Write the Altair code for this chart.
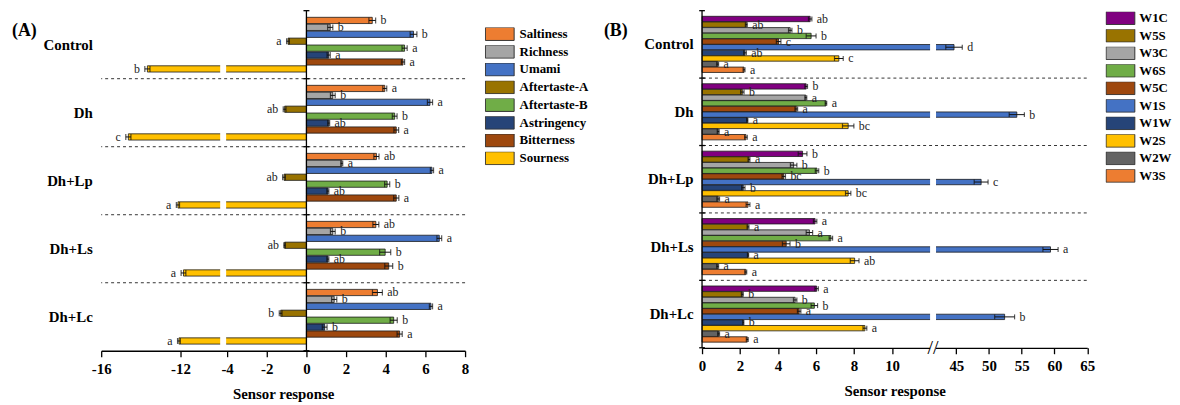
import altair as alt
import pandas as pd

FONT = "Liberation Serif"

groups = ["Control", "Dh", "Dh+Lp", "Dh+Ls", "Dh+Lc"]

# ---------------- Panel A : e-tongue ----------------
taste_attrs = ["Saltiness", "Richness", "Umami", "Aftertaste-A", "Aftertaste-B",
               "Astringency", "Bitterness", "Sourness"]
taste_colors = ["#ED7D31", "#A5A5A5", "#4472C4", "#997300", "#70AD47",
                "#264478", "#9E480E", "#FFC000"]

taste_control = [3.32, 1.20, 5.40, -0.93, 4.95, 1.12, 4.87, -13.67]
taste_dh = [3.95, 1.33, 6.23, -1.10, 4.45, 1.12, 4.53, -14.63]
taste_dhlp = [3.53, 1.78, 6.33, -1.13, 4.07, 1.08, 4.53, -12.13]
taste_dhls = [3.50, 1.33, 6.70, -1.10, 3.97, 1.08, 4.15, -11.85]
taste_dhlc = [3.58, 1.40, 6.28, -1.30, 4.40, 0.92, 4.70, -12.08]

taste_err_control = [0.17, 0.13, 0.17, 0.07, 0.13, 0.08, 0.08, 0.13]
taste_err_dh = [0.10, 0.12, 0.13, 0.07, 0.12, 0.05, 0.12, 0.13]
taste_err_dhlp = [0.13, 0.05, 0.08, 0.07, 0.13, 0.05, 0.13, 0.08]
taste_err_dhls = [0.15, 0.12, 0.12, 0.04, 0.28, 0.05, 0.20, 0.12]
taste_err_dhlc = [0.25, 0.13, 0.08, 0.07, 0.18, 0.12, 0.13, 0.07]

taste_let_control = ["b", "b", "b", "a", "a", "a", "a", "b"]
taste_let_dh = ["a", "b", "a", "ab", "b", "ab", "a", "c"]
taste_let_dhlp = ["ab", "a", "a", "ab", "b", "ab", "a", "a"]
taste_let_dhls = ["ab", "b", "a", "ab", "b", "ab", "b", "a"]
taste_let_dhlc = ["ab", "b", "a", "b", "b", "b", "a", "a"]

taste_ticks = [-16, -12, -4, -2, 0, 2, 4, 6, 8]

# ---------------- Panel B : e-nose ----------------
sensor_attrs = ["W1C", "W5S", "W3C", "W6S", "W5C", "W1S", "W1W", "W2S", "W2W", "W3S"]
sensor_colors = ["#800080", "#997300", "#A5A5A5", "#70AD47", "#9E480E",
                 "#4472C4", "#264478", "#FFC000", "#636363", "#ED7D31"]

sensor_control = [5.69, 2.33, 4.64, 5.74, 4.03, 44.65, 2.26, 7.20, 0.82, 2.21]
sensor_dh = [5.48, 2.12, 5.46, 6.52, 4.96, 54.24, 2.38, 7.69, 0.85, 2.31]
sensor_dhlp = [5.29, 2.47, 4.82, 6.05, 4.30, 48.79, 2.17, 7.69, 0.85, 2.42]
sensor_dhls = [5.95, 2.42, 5.65, 6.78, 4.43, 59.39, 2.42, 8.03, 0.82, 2.30]
sensor_dhlc = [6.03, 2.12, 4.90, 5.91, 5.11, 52.38, 2.17, 8.57, 0.87, 2.38]

sensor_err_control = [0.09, 0.05, 0.09, 0.26, 0.12, 1.26, 0.07, 0.23, 0.05, 0.05]
sensor_err_dh = [0.07, 0.09, 0.05, 0.04, 0.07, 1.16, 0.03, 0.30, 0.05, 0.07]
sensor_err_dhlp = [0.23, 0.05, 0.17, 0.09, 0.09, 1.06, 0.09, 0.14, 0.07, 0.10]
sensor_err_dhls = [0.09, 0.05, 0.17, 0.09, 0.20, 1.16, 0.03, 0.23, 0.05, 0.05]
sensor_err_dhlc = [0.09, 0.05, 0.09, 0.17, 0.09, 1.52, 0.03, 0.10, 0.05, 0.05]

sensor_let_control = ["ab", "ab", "b", "b", "c", "d", "ab", "c", "a", "a"]
sensor_let_dh = ["b", "b", "a", "a", "a", "b", "a", "bc", "a", "a"]
sensor_let_dhlp = ["b", "a", "b", "b", "bc", "c", "b", "bc", "a", "a"]
sensor_let_dhls = ["a", "a", "a", "a", "b", "a", "a", "ab", "a", "a"]
sensor_let_dhlc = ["a", "b", "b", "b", "a", "b", "b", "a", "a", "a"]

sensor_ticks = [0, 2, 4, 6, 8, 10, 45, 50, 55, 60, 65]


def build_df(attrs, vals, errs, lets):
    rows = []
    for g, v, e, l in zip(groups, vals, errs, lets):
        for a, vv, ee, ll in zip(attrs, v, e, l):
            rows.append({"group": g, "attr": a, "value": vv,
                         "lo": vv - ee, "hi": vv + ee, "letter": ll})
    return pd.DataFrame(rows)


df_a = build_df(taste_attrs,
                [taste_control, taste_dh, taste_dhlp, taste_dhls, taste_dhlc],
                [taste_err_control, taste_err_dh, taste_err_dhlp, taste_err_dhls, taste_err_dhlc],
                [taste_let_control, taste_let_dh, taste_let_dhlp, taste_let_dhls, taste_let_dhlc])
df_b = build_df(sensor_attrs,
                [sensor_control, sensor_dh, sensor_dhlp, sensor_dhls, sensor_dhlc],
                [sensor_err_control, sensor_err_dh, sensor_err_dhlp, sensor_err_dhls, sensor_err_dhlc],
                [sensor_let_control, sensor_let_dh, sensor_let_dhlp, sensor_let_dhls, sensor_let_dhlc])


def panel(df, attrs, colors, dom, rng, width, height, ticks, pad_outer, pad_inner,
          cap, tag, tag_x, tag_y, leg_x, leg_y, row_pad, leg_off, gap, gap_y2, break_mark):
    xs = alt.Scale(domain=dom, range=rng, zero=False, nice=False)
    ys = alt.Scale(domain=groups, paddingInner=0, paddingOuter=0)
    yos = alt.Scale(domain=attrs, paddingInner=pad_inner, paddingOuter=pad_outer)
    xaxis = alt.Axis(values=ticks, title="Sensor response", labelExpr="'' + datum.value",
                     grid=False, domainColor="black", domainWidth=1.3, tickColor="black",
                     tickWidth=1.3, tickSize=6, labelFont=FONT, labelFontSize=15,
                     labelFontWeight="bold", labelColor="black", labelPadding=5,
                     labelFlush=False, labelOverlap=False, titleFont=FONT, titleFontSize=15,
                     titleFontWeight="bold", titleColor="black", titlePadding=10)
    yaxis = alt.Axis(title=None, domain=False, ticks=False, labelFont=FONT, labelFontSize=15,
                     labelFontWeight="bold", labelColor="black", labelPadding=9)

    X = lambda f: alt.X(f, scale=xs, axis=xaxis)
    Y = alt.Y("group:N", scale=ys, axis=yaxis)
    YO = alt.YOffset("attr:N", scale=yos)
    base = alt.Chart(df)
    one = alt.Chart(pd.DataFrame({"k": [0]}))

    legend = alt.Legend(title=None, orient="none", legendX=leg_x, legendY=leg_y,
                        symbolType="M-1,-0.45H1V0.45H-1Z", symbolSize=841,
                        symbolStrokeColor="#333", symbolStrokeWidth=1, symbolOpacity=1,
                        labelFont=FONT, labelFontSize=13, labelFontWeight="bold",
                        labelColor="black", clipHeight=13, rowPadding=row_pad,
                        labelOffset=leg_off, padding=0)

    bars = base.mark_bar(stroke="#1a1a1a", strokeWidth=0.8).encode(
        x=X("value:Q"), x2=alt.datum(0), y=Y, yOffset=YO,
        color=alt.Color("attr:N", scale=alt.Scale(domain=attrs, range=colors), legend=legend))

    gap_rect = one.mark_rect(color="white").encode(
        x=alt.X(datum=gap[0], type="quantitative", scale=xs, axis=xaxis),
        x2=alt.datum(gap[1]), y=alt.value(0), y2=alt.value(gap_y2))

    err = base.mark_rule(color="#111", strokeWidth=1).encode(
        x=X("lo:Q"), x2="hi:Q", y=Y, yOffset=YO)
    cap_lo = base.mark_tick(color="#111", thickness=1.2, size=cap).encode(
        x=X("lo:Q"), y=Y, yOffset=YO)
    cap_hi = base.mark_tick(color="#111", thickness=1.2, size=cap).encode(
        x=X("hi:Q"), y=Y, yOffset=YO)

    sep = alt.Chart(pd.DataFrame({"group": groups[:-1]})).mark_rule(
        strokeDash=[3, 3], color="#333", strokeWidth=1).encode(
        y=alt.Y("group:N", bandPosition=1, scale=ys, axis=yaxis))

    zero = one.mark_rule(color="black", strokeWidth=1.3).encode(
        x=alt.X(datum=0, type="quantitative", scale=xs, axis=xaxis))
    gticks_top = alt.Chart(pd.DataFrame({"group": groups})).mark_rule(
        color="black", strokeWidth=1.3).encode(
        x=alt.X(datum=-0.15, type="quantitative", scale=xs, axis=xaxis), x2=alt.datum(0.15),
        y=alt.Y("group:N", bandPosition=0, scale=ys, axis=yaxis))
    gticks_bot = alt.Chart(pd.DataFrame({"group": groups[-1:]})).mark_rule(
        color="black", strokeWidth=1.3).encode(
        x=alt.X(datum=-0.15, type="quantitative", scale=xs, axis=xaxis), x2=alt.datum(0.15),
        y=alt.Y("group:N", bandPosition=1, scale=ys, axis=yaxis))

    txt_pos = base.transform_filter("datum.value >= 0").mark_text(
        align="left", baseline="middle", dx=5, font=FONT, fontSize=12, color="#222").encode(
        x=X("hi:Q"), y=Y, yOffset=YO, text="letter:N")
    txt_neg = base.transform_filter("datum.value < 0").mark_text(
        align="right", baseline="middle", dx=-5, font=FONT, fontSize=12, color="#222").encode(
        x=X("lo:Q"), y=Y, yOffset=YO, text="letter:N")

    tag_t = alt.Chart(pd.DataFrame({"t": [tag]})).mark_text(
        align="left", baseline="middle", font=FONT, fontSize=18, fontWeight="bold",
        color="black").encode(x=alt.value(tag_x), y=alt.value(tag_y), text="t:N")

    layers = [bars, gap_rect, err, cap_lo, cap_hi, sep, zero, gticks_top, gticks_bot,
              txt_pos, txt_neg, tag_t]
    if break_mark is not None:
        brk = alt.Chart(pd.DataFrame({"t": ["//"]})).mark_text(
            align="center", baseline="middle", font=FONT, fontSize=20, color="black").encode(
            x=alt.X(datum=break_mark, type="quantitative", scale=xs, axis=xaxis),
            y=alt.value(height), text="t:N")
        layers.append(brk)
    return alt.layer(*layers).properties(width=width, height=height)


panel_a = panel(df_a, taste_attrs, taste_colors,
                dom=[-16, -10, -4.05, 8], rng=[0, 120, 126, 367],
                width=367, height=343, ticks=taste_ticks, pad_outer=0.96, pad_inner=0.1,
                cap=6, tag="(A)", tag_x=-90, tag_y=21, leg_x=387, leg_y=17, row_pad=3.9,
                leg_off=5, gap=(-10, -4.05), gap_y2=341, break_mark=None)

panel_b = panel(df_b, sensor_attrs, sensor_colors,
                dom=[0, 12, 41.9, 65], rng=[0, 230, 236, 388.5],
                width=388, height=340, ticks=sensor_ticks, pad_outer=1.0, pad_inner=0.05,
                cap=5, tag="(B)", tag_x=-99, tag_y=21, leg_x=407, leg_y=1, row_pad=3.67,
                leg_off=4, gap=(12, 41.9), gap_y2=344, break_mark=26.95)

chart = alt.hconcat(panel_a, panel_b, spacing=15).resolve_scale(
    color="independent", x="independent", y="independent", yOffset="independent"
).properties(
    padding={"left": 4, "top": 0, "right": 0, "bottom": 0}
).configure_view(stroke=None)

chart.save("out.html", embed_options={"renderer": "svg", "actions": False})
